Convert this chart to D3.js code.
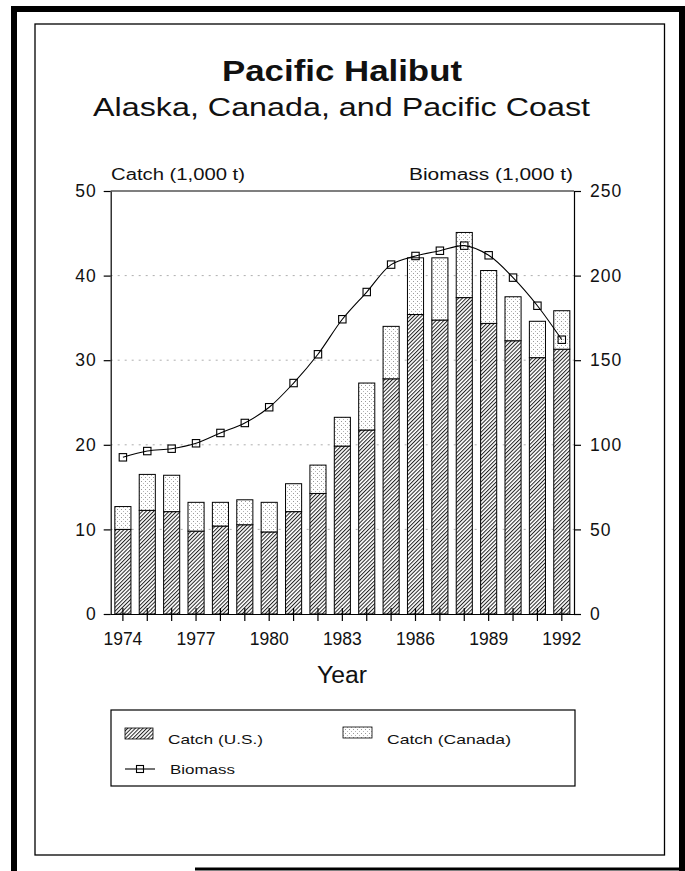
<!DOCTYPE html>
<html>
<head>
<meta charset="utf-8">
<script src="https://cdn.jsdelivr.net/npm/d3@7/dist/d3.min.js"></script>
<style>
  body { margin: 0; background: #fff; }
  svg { display: block; }
  text { font-family: "Liberation Sans", Arial, Helvetica, sans-serif; fill: #111; }
</style>
</head>
<body>
<svg id="chart" width="685" height="871"></svg>
<script>
// ---- data ----
const years = [1974,1975,1976,1977,1978,1979,1980,1981,1982,1983,1984,1985,1986,1987,1988,1989,1990,1991,1992];
const catchUS = [10.0,12.25,12.1,9.8,10.4,10.55,9.7,12.1,14.25,19.85,21.75,27.8,35.4,34.75,37.4,34.35,32.3,30.3,31.3];
const catchCanada = [2.7,4.25,4.3,3.4,2.8,2.95,3.5,3.3,3.35,3.4,5.55,6.2,6.7,7.35,7.7,6.25,5.2,4.3,4.55];
const biomass = [92.6,96.3,97.7,100.9,107,112.9,122.2,136.5,153.5,174.2,190.3,206.5,211.6,214.7,217.7,212,198.8,182.2,162.1];
const catchTicks = [0,10,20,30,40,50];
const biomassTicks = [0,50,100,150,200,250];
const yearLabels = [1974,1977,1980,1983,1986,1989,1992];

(function () {
const svg = d3.select("#chart");

// ---- patterns ----
const defs = svg.append("defs");
const hatch = defs.append("pattern").attr("id","hatch")
  .attr("patternUnits","userSpaceOnUse").attr("width",2.7).attr("height",2.7)
  .attr("patternTransform","rotate(45)");
hatch.append("rect").attr("width",2.7).attr("height",2.7).attr("fill","#fff");
hatch.append("line").attr("x1",0.5).attr("y1",0).attr("x2",0.5).attr("y2",2.7)
  .attr("stroke","#222").attr("stroke-width",1);
const dots = defs.append("pattern").attr("id","dots")
  .attr("patternUnits","userSpaceOnUse").attr("width",4).attr("height",4);
dots.append("rect").attr("width",4).attr("height",4).attr("fill","#fff");
dots.append("rect").attr("x",1).attr("y",1).attr("width",1).attr("height",1).attr("fill","#999");
dots.append("rect").attr("x",3).attr("y",3).attr("width",1).attr("height",1).attr("fill","#b5b5b5");

// ---- frames ----
svg.append("path").attr("d","M14,875 L14,9 L682,9 L682,875")
  .attr("fill","none").attr("stroke","#000").attr("stroke-width",6);
svg.append("line").attr("x1",195).attr("x2",685).attr("y1",869).attr("y2",869)
  .attr("stroke","#000").attr("stroke-width",3);
svg.append("rect").attr("x",35).attr("y",24).attr("width",629.5).attr("height",831)
  .attr("fill","none").attr("stroke","#000").attr("stroke-width",1.3);

const label = (sel, xPos, yPos, size, len, anchor, str, bold) => {
  const t = sel.append("text").attr("x", xPos).attr("y", yPos).attr("font-size", size)
    .attr("text-anchor", anchor).attr("textLength", len).attr("lengthAdjust", "spacingAndGlyphs")
    .text(str);
  if (bold) t.attr("font-weight", "bold");
  return t;
};

// ---- titles ----
label(svg, 342, 81, 29, 240, "middle", "Pacific Halibut", true);
label(svg, 341.5, 116, 25, 497, "middle", "Alaska, Canada, and Pacific Coast", false);

// ---- scales ----
const pL = 110.7, pR = 574, pT = 191, pB = 614;
const x = d3.scaleBand().domain(years).range([pL, pR]).paddingInner(0.34).paddingOuter(0.17);
const y = d3.scaleLinear().domain([0,50]).range([pB, pT]);
const y2 = d3.scaleLinear().domain([0,250]).range([pB, pT]);

// gridlines
svg.append("g").selectAll("line").data(catchTicks.filter(d => d > 0 && d < 50)).join("line")
  .attr("x1", pL).attr("x2", pR).attr("y1", d => y(d)).attr("y2", d => y(d))
  .attr("stroke","#999").attr("stroke-width",0.8).attr("stroke-dasharray","2,5");

// bars
const bars = svg.append("g");
bars.selectAll("rect.us").data(years).join("rect").attr("class","us")
  .attr("x", d => x(d)).attr("width", x.bandwidth())
  .attr("y", (d,i) => y(catchUS[i])).attr("height", (d,i) => y(0) - y(catchUS[i]))
  .attr("fill","url(#hatch)").attr("stroke","#000").attr("stroke-width",1);
bars.selectAll("rect.ca").data(years).join("rect").attr("class","ca")
  .attr("x", d => x(d)).attr("width", x.bandwidth())
  .attr("y", (d,i) => y(catchUS[i] + catchCanada[i]))
  .attr("height", (d,i) => y(catchUS[i]) - y(catchUS[i] + catchCanada[i]))
  .attr("fill","url(#dots)").attr("stroke","#000").attr("stroke-width",1);

// frame top line
svg.append("line").attr("x1",pL).attr("x2",pR).attr("y1",pT).attr("y2",pT)
  .attr("stroke","#000").attr("stroke-width",1.2);

// axes
const axL = svg.append("g").attr("transform",`translate(${pL},0)`)
  .call(d3.axisLeft(y).tickValues(catchTicks).tickSize(7).tickSizeOuter(0).tickPadding(7));
const axR = svg.append("g").attr("transform",`translate(${pR},0)`)
  .call(d3.axisRight(y2).tickValues(biomassTicks).tickSize(7).tickSizeOuter(0).tickPadding(9));
const axB = svg.append("g").attr("transform",`translate(0,${pB})`)
  .call(d3.axisBottom(x).tickSize(7).tickSizeOuter(0).tickPadding(12)
    .tickFormat(d => yearLabels.includes(d) ? String(d) : ""));
axB.select(".domain").attr("d", `M${pL},0.5H${pR + 6}`);
axB.selectAll(".tick line").attr("y1",-6).attr("y2",7);
[axL, axR, axB].forEach(a => {
  a.selectAll("text").attr("font-size",17.5).attr("font-family","Liberation Sans, Arial, sans-serif").attr("fill","#111");
  a.selectAll("line, path").attr("stroke","#000").attr("stroke-width",1.2);
});
axL.selectAll("text").attr("letter-spacing",1);
axR.selectAll("text").attr("letter-spacing",1);

// axis titles
label(svg, 111, 180, 16, 134, "start", "Catch (1,000 t)", false);
label(svg, 573, 180, 16, 164, "end", "Biomass (1,000 t)", false);
label(svg, 342, 683, 23, 50, "middle", "Year", false);

// biomass line
const line = d3.line().x((d,i) => x(years[i]) + x.bandwidth()/2).y(d => y2(d))
  .curve(d3.curveCatmullRom.alpha(0.5));
svg.append("path").datum(biomass).attr("d", line)
  .attr("fill","none").attr("stroke","#000").attr("stroke-width",1.1);
svg.append("g").selectAll("rect").data(biomass).join("rect")
  .attr("x",(d,i) => x(years[i]) + x.bandwidth()/2 - 3.7)
  .attr("y", d => y2(d) - 3.7).attr("width",7.4).attr("height",7.4)
  .attr("fill","none").attr("stroke","#000").attr("stroke-width",1.1);

// legend
const lg = svg.append("g");
lg.append("rect").attr("x",111).attr("y",710).attr("width",464).attr("height",76)
  .attr("fill","none").attr("stroke","#000").attr("stroke-width",1.2);
lg.append("rect").attr("x",125).attr("y",728).attr("width",28).attr("height",11)
  .attr("fill","url(#hatch)").attr("stroke","#000").attr("stroke-width",0.8);
label(lg, 168, 744, 13, 95, "start", "Catch (U.S.)", false);
lg.append("rect").attr("x",343).attr("y",727).attr("width",29).attr("height",11)
  .attr("fill","url(#dots)").attr("stroke","#000").attr("stroke-width",0.8);
label(lg, 387, 744, 13, 124, "start", "Catch (Canada)", false);
lg.append("line").attr("x1",125).attr("x2",155).attr("y1",769).attr("y2",769)
  .attr("stroke","#000").attr("stroke-width",1.1);
lg.append("rect").attr("x",136.5).attr("y",765.5).attr("width",7).attr("height",7)
  .attr("fill","none").attr("stroke","#000").attr("stroke-width",1.1);
label(lg, 170, 774, 13, 65, "start", "Biomass", false);
})();
</script>
</body>
</html>
